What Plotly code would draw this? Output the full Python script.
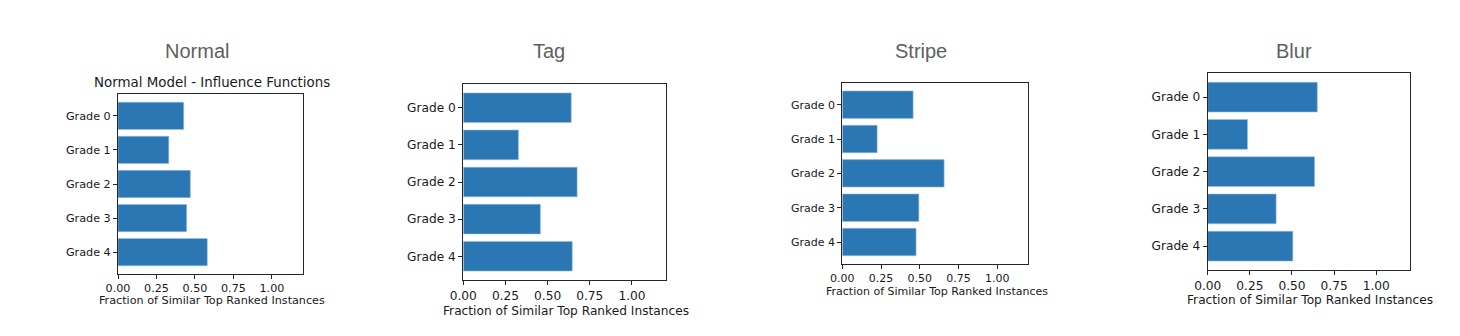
import plotly.graph_objects as go

W, H = 1460, 336

# data
grades = ["Grade 0", "Grade 1", "Grade 2", "Grade 3", "Grade 4"]
normal_vals = [0.427, 0.330, 0.470, 0.446, 0.580]
tag_vals = [0.640, 0.327, 0.675, 0.457, 0.646]
stripe_vals = [0.457, 0.225, 0.657, 0.494, 0.476]
blur_vals = [0.650, 0.236, 0.634, 0.406, 0.505]
panel_titles = ["Normal", "Tag", "Stripe", "Blur"]
x_ticks = [0, 0.25, 0.5, 0.75, 1.0]
x_tick_text = ["0.00", "0.25", "0.50", "0.75", "1.00"]
x_label = "Fraction of Similar Top Ranked Instances"
sub_title = "Normal Model - Influence Functions"

series = [normal_vals, tag_vals, stripe_vals, blur_vals]

# pixel boxes of each small axes: (left, right, top, bottom), font size,
# title centre, x-label centre
panels = [
    dict(box=(118, 302.7, 94, 274), fs=11.2, title=(196.7, 50.7), xlab=(212.3, 300.7)),
    dict(box=(463.3, 665.7, 84, 280), fs=12.2, title=(549.3, 50.7), xlab=(565.7, 311)),
    dict(box=(842.3, 1028.3, 82.7, 264), fs=11, title=(921, 50.7), xlab=(936.7, 291.7)),
    dict(box=(1207.7, 1410, 73.3, 270), fs=12.2, title=(1294, 50.7), xlab=(1310, 300)),
]

BAR = "#2a77b3"
AXC = "#262626"
MPL_FONT = "DejaVu Sans"


def px(x):
    return x / W


def py(y):
    return 1 - y / H


fig = go.Figure()
annotations = []

for i, (vals, p) in enumerate(zip(series, panels)):
    n = "" if i == 0 else str(i + 1)
    l, r, t, b = p["box"]
    fig.add_trace(go.Bar(
        x=vals, y=grades, orientation="h",
        width=0.8,
        marker=dict(color=BAR, line=dict(color="#9cc0e0", width=0.6)),
        xaxis="x" + n, yaxis="y" + n,
        showlegend=False, hoverinfo="x+y",
    ))
    font = dict(family=MPL_FONT, size=p["fs"], color="#1a1a1a")
    fig.layout["xaxis" + n] = dict(
        domain=[px(l), px(r)], anchor="y" + n, automargin=False,
        range=[0, 1.2], tickvals=x_ticks, ticktext=x_tick_text,
        ticks="outside", ticklen=4, tickcolor=AXC, tickfont=font,
        showline=True, linecolor=AXC, linewidth=1, mirror=True,
        showgrid=False, zeroline=False, fixedrange=True,
    )
    fig.layout["yaxis" + n] = dict(
        domain=[py(b), py(t)], anchor="x" + n, automargin=False,
        type="category", range=[4.64, -0.64],
        ticks="outside", ticklen=4, tickcolor=AXC, tickfont=font,
        showline=True, linecolor=AXC, linewidth=1, mirror=True,
        showgrid=False, zeroline=False, fixedrange=True,
    )
    annotations.append(dict(
        text=panel_titles[i], x=px(p["title"][0]), y=py(p["title"][1]),
        xref="paper", yref="paper", xanchor="center", yanchor="middle",
        showarrow=False, font=dict(family="Liberation Sans", size=20, color="#5f5f5f"),
    ))
    annotations.append(dict(
        text=x_label, x=px(p["xlab"][0]), y=py(p["xlab"][1]),
        xref="paper", yref="paper", xanchor="center", yanchor="middle",
        showarrow=False, font=font,
    ))

# the first panel carries its own matplotlib title
annotations.append(dict(
    text=sub_title, x=px(212.3), y=py(82.3),
    xref="paper", yref="paper", xanchor="center", yanchor="middle",
    showarrow=False, font=dict(family=MPL_FONT, size=13.4, color="#1a1a1a"),
))

fig.update_layout(
    template="none",
    width=W, height=H,
    margin=dict(l=0, r=0, t=0, b=0),
    paper_bgcolor="white", plot_bgcolor="white",
    annotations=annotations,
    bargap=0.2,
)

fig.write_html("out.html", config={"displayModeBar": False})

# drop the browser's default 8px body margin so the figure sits at 0,0
with open("out.html", encoding="utf-8") as f:
    page = f.read()
page = page.replace("<body>", '<body style="margin:0;overflow:hidden">', 1)
with open("out.html", "w", encoding="utf-8") as f:
    f.write(page)
